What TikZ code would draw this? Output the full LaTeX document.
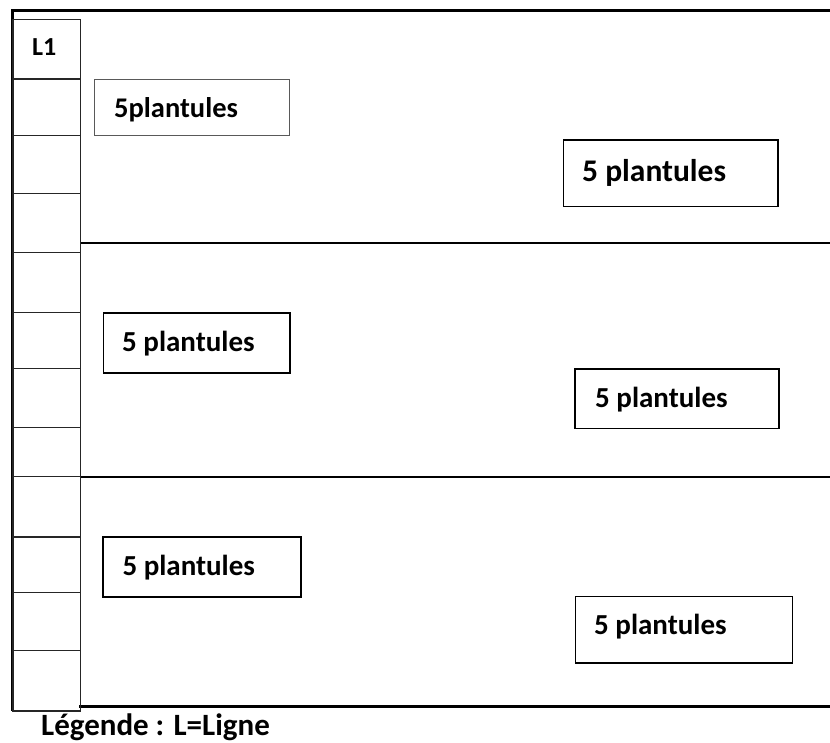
\documentclass[tikz,border=0pt]{standalone}
\usepackage{fontspec}
\setmainfont{Carlito}
\begin{document}
\begin{tikzpicture}[x=1pt,y=-1pt,
  frame/.style={line width=2.6pt,line cap=rect},
  sep/.style={line width=2pt},
  cell/.style={line width=1.2pt,draw=black!85},
  plbox/.style={draw=black,line width=1.6pt,inner sep=0pt,anchor=north west},
  thinbox/.style={draw=black!65,line width=1pt,inner sep=0pt,anchor=north west},
  pltext/.style={font=\bfseries\fontsize{29}{34}\selectfont,inner sep=0pt,anchor=base west}]
\useasboundingbox (0,0) rectangle (830,743);

% outer frame: top, left and bottom edges
\draw[frame] (12.5,10.7) -- (830,10.7);
\draw[line width=2.4pt] (12.5,10.7) -- (12.5,711);
\draw[frame] (80.7,706.7) -- (830,706.7);

% separators between the three plots
\draw[sep] (80.7,243.5) -- (830,243.5);
\draw[sep] (80.7,477.3) -- (830,477.3);

% the line column, twelve cells
\draw[cell] (13,19.3) rectangle (80.7,711);
\foreach \yy in {79,135.7,193.7,252.7,312.3,368.3,427.7,476.5,537,592.3,650.7}
  \draw[cell] (13,\yy) -- (80.7,\yy);
\node[pltext,font=\bfseries\fontsize{26}{30}\selectfont] (l1) at (32,56) {L1};

% seedling groups
\node[thinbox,minimum width=194.4pt,minimum height=56pt] (b1) at (94.3,79) {};
\node[pltext,font=\bfseries\fontsize{28.5}{33}\selectfont] (t1) at (114,118) {5plantules};

\node[plbox,minimum width=214.6pt,minimum height=66.7pt] (b2) at (562.7,139) {};
\node[pltext,font=\bfseries\fontsize{31.5}{36}\selectfont] (t2) at (582,181.7) {5 plantules};

\node[plbox,minimum width=186.6pt,minimum height=60pt] (b3) at (102.7,312.3) {};
\node[pltext] (t3) at (122,351.7) {5 plantules};

\node[plbox,minimum width=204pt,minimum height=59.4pt] (b4) at (574.3,368.3) {};
\node[pltext] (t4) at (595,407.7) {5 plantules};

\node[plbox,minimum width=197.7pt,minimum height=60pt] (b5) at (102.3,536) {};
\node[pltext] (t5) at (122.3,575.7) {5 plantules};

\node[plbox,minimum width=217pt,minimum height=66.6pt] (b6) at (574.7,595.7) {};
\node[pltext] (t6) at (594,634.3) {5 plantules};

% legend
\node[pltext,font=\bfseries\fontsize{31}{36}\selectfont] (leg) at (41,735.5) {Légende : L=Ligne};
\end{tikzpicture}
\end{document}
